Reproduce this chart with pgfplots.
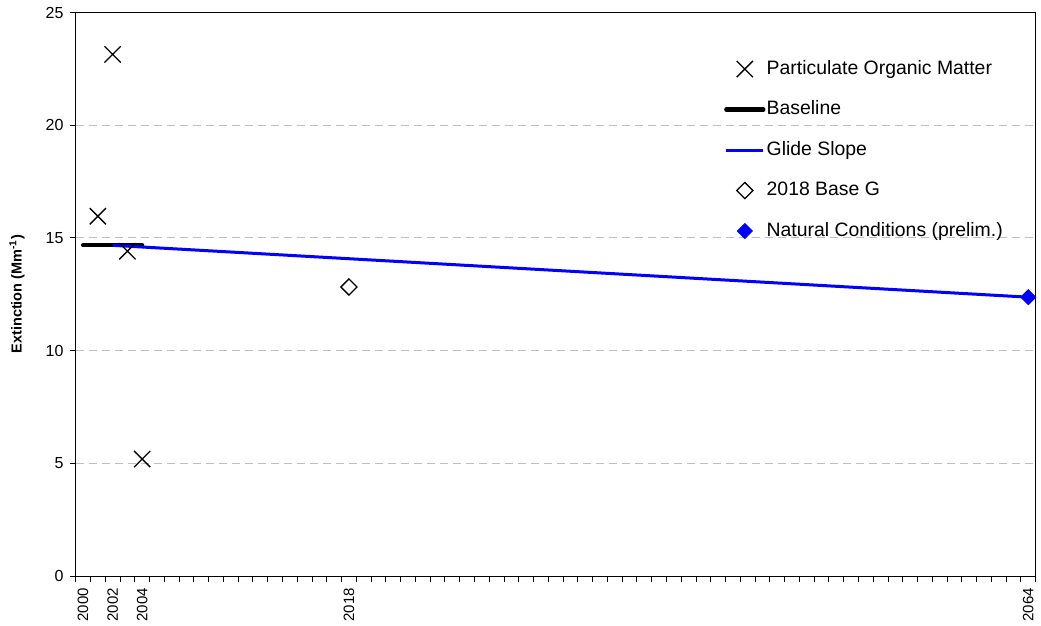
\documentclass[border=0pt]{standalone}
\usepackage{fontspec}
\setmainfont{Liberation Sans}
\usepackage{pgfplots}
\pgfplotsset{compat=1.18}
\begin{document}
\begin{tikzpicture}
\begin{axis}[
  at={(0pt,0pt)}, anchor=south west,
  scale only axis, width=960pt, height=563.5pt,
  xmin=1999.5, xmax=2064.5, ymin=0, ymax=25,
  axis line style={line width=1pt},
  tick align=outside, tick pos=left,
  major tick length=5.5pt, minor tick length=5.5pt,
  every tick/.style={black, line width=1pt},
  xtick={2000,2002,2004,2018,2064},
  xticklabels={2000,2002,2004,2018,2064},
  minor xtick={1999.5,2000.5,...,2064.5},
  major x tick style={draw=none},
  ytick={0,5,10,15,20,25},
  /pgf/number format/assume math mode=true,
  xticklabel shift=6.5pt,
  yticklabel shift=6.5pt,
  x tick label style={rotate=90, anchor=east, inner sep=0pt, font=\fontsize{15}{17}\selectfont},
  y tick label style={inner sep=0pt, font=\fontsize{16}{18}\selectfont},
  ymajorgrids,
  major grid style={draw=black!25, line width=1pt, dash pattern=on 8pt off 5pt},
  ylabel={\textbf{Extinction (Mm\textsuperscript{-1})}},
  every axis y label/.style={at={(axis description cs:-0.0611,0.5)}, anchor=center, rotate=90, font=\fontsize{14.5}{17}\selectfont},
  legend image code/.code={\draw[mark repeat=2,mark phase=2,#1] plot coordinates {(0pt,0pt) (18.5pt,0pt) (37pt,0pt)};},
  legend cell align=left,
  legend style={at={(axis description cs:0.6753,0.916)}, anchor=north west, draw=none, fill=none, inner sep=0pt,
    row sep=22.5pt, font=\fontsize{19.4}{23}\selectfont,
    nodes={inner xsep=1.2pt, inner ysep=0pt, text height=14pt, text depth=4pt}},
]
\addplot[only marks, mark=x, mark size=11.5pt, mark options={line width=1.3pt, black}] coordinates {
  (2001,15.96) (2002,23.14) (2003,14.41) (2004,5.19)};
\addlegendentry{Particulate Organic Matter}
\addplot[black, line width=4.3pt, line cap=round, mark=none] coordinates {(2000,14.67) (2004,14.67)};
\addlegendentry{Baseline}
\addplot[blue, line width=3pt, mark=none] coordinates {(2002,14.67) (2064,12.37)};
\addlegendentry{Glide Slope}
\addplot[only marks, mark=square, mark size=5.7pt, mark options={rotate=45, line width=1.3pt, black, fill=white}] coordinates {(2018,12.82)};
\addlegendentry{2018 Base G}
\addplot[only marks, mark=square*, mark size=5.5pt, mark options={rotate=45, blue, fill=blue}] coordinates {(2064,12.37)};
\addlegendentry{Natural Conditions (prelim.)}
\end{axis}
\pgfresetboundingbox
\useasboundingbox (-75.7pt,-50pt) rectangle (965.3pt,576pt);
\end{tikzpicture}
\end{document}
